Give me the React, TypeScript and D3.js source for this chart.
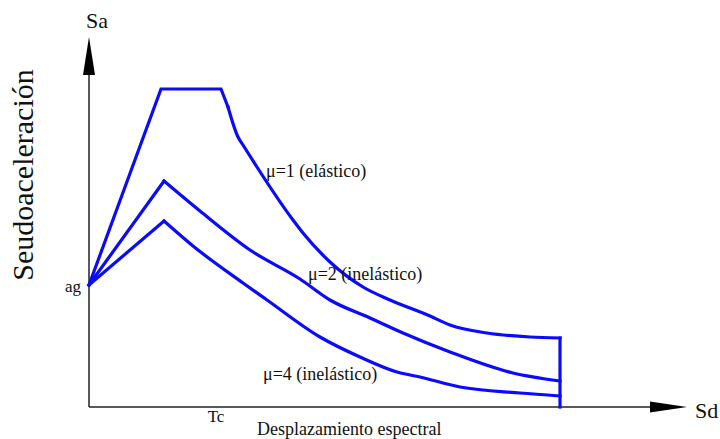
import React from "react";
import * as d3 from "d3";

type P = [number, number];

// Values in chart units (Sd along x, Sa along y)
const mu1: P[] = [
  [0, 122], [72, 318], [132, 318], [139, 300], [149, 270], [154, 262],
  [204, 187], [214, 174], [241, 145], [274, 120], [301, 107], [341, 91],
  [361, 82], [398, 74], [441, 70], [471, 69], [471, 0],
];
const mu2: P[] = [
  [0, 122], [75, 226], [111, 196], [161, 157], [211, 128], [241, 107],
  [281, 89], [314, 74], [361, 55], [424, 34], [471, 26],
];
const mu4: P[] = [
  [0, 122], [75, 186], [104, 161], [154, 124], [178, 107], [231, 70],
  [271, 50], [308, 35], [331, 30], [371, 20], [431, 14], [471, 11],
];

const seriesLabels = [
  { text: "μ=1 (elástico)", x: 177, y: 230 },
  { text: "μ=2 (inelástico)", x: 219, y: 127 },
  { text: "μ=4 (inelástico)", x: 174, y: 27 },
];
const agValue = 122;
const tcValue = 127;

const W = 720;
const H = 439;

export default function App() {
  const x = d3.scaleLinear().domain([0, 600]).range([89, 689]);
  const y = d3.scaleLinear().domain([0, 370]).range([407, 37]);
  const lin = d3
    .line<P>()
    .x((d) => x(d[0]))
    .y((d) => y(d[1]))
    .curve(d3.curveLinear);
  const smooth = d3
    .line<P>()
    .x((d) => x(d[0]))
    .y((d) => y(d[1]))
    .curve(d3.curveMonotoneX);
  const font = "'Liberation Serif', 'Times New Roman', serif";
  const blue = "#0a0aff";
  const x0 = x(0);
  const y0 = y(0);

  // split each series into sharp (linear) part and smooth tail
  const pieces: { d: string }[] = [
    { d: lin(mu1.slice(0, 4)) || "" },
    { d: smooth(mu1.slice(3, mu1.length - 1)) || "" },
    { d: lin(mu1.slice(mu1.length - 2)) || "" },
    { d: lin(mu2.slice(0, 2)) || "" },
    { d: smooth(mu2.slice(1)) || "" },
    { d: lin(mu4.slice(0, 2)) || "" },
    { d: smooth(mu4.slice(1)) || "" },
  ];

  return (
    <svg
      width={W}
      height={H}
      style={{ position: "absolute", left: 0, top: 0, background: "#fff" }}
      fontFamily={font}
    >
      {/* axes */}
      <line x1={x0} y1={y0} x2={x0} y2={y(332)} stroke="#222" strokeWidth={1.5} />
      <path
        d={`M${x0},${y(370)} L${x0 - 6},${y(332)} L${x0 + 6},${y(332)} Z`}
        fill="#000"
      />
      <line x1={x0} y1={y0} x2={x(561)} y2={y0} stroke="#222" strokeWidth={1.5} />
      <path
        d={`M${x(598)},${y0} L${x(561)},${y0 - 5.5} L${x(561)},${y0 + 5.5} Z`}
        fill="#000"
      />
      {/* curves */}
      {pieces.map((p, i) => (
        <path
          key={i}
          d={p.d}
          fill="none"
          stroke={blue}
          strokeWidth={3.2}
          strokeLinejoin="miter"
          strokeLinecap="square"
        />
      ))}
      {/* labels */}
      {seriesLabels.map((l, i) => (
        <text key={i} x={x(l.x)} y={y(l.y)} fontSize={18} fill="#111">
          {l.text}
        </text>
      ))}
      <text x={x0 - 8} y={y(agValue) + 7} fontSize={17} textAnchor="end" fill="#111">
        ag
      </text>
      <text x={x(tcValue)} y={y0 + 15} fontSize={17} textAnchor="middle" fill="#111">
        Tc
      </text>
      <text x={257} y={435} fontSize={18} fill="#111">
        Desplazamiento espectral
      </text>
      <text x={86} y={28} fontSize={22} fill="#111">
        Sa
      </text>
      <text x={695} y={418} fontSize={22} fill="#111">
        Sd
      </text>
      <text
        transform={`translate(33,175) rotate(-90)`}
        fontSize={30}
        textAnchor="middle"
        fill="#111"
      >
        Seudoaceleración
      </text>
    </svg>
  );
}
